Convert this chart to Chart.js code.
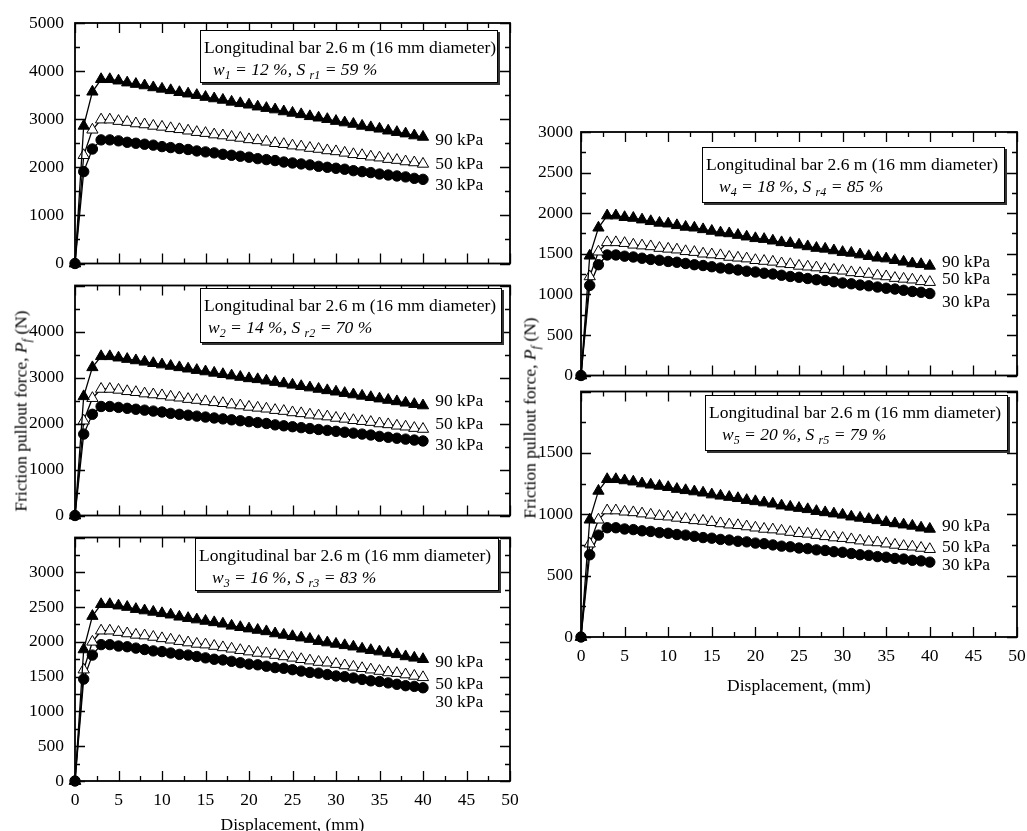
<!DOCTYPE html>
<html>
<head>
<meta charset="utf-8">
<title>Friction pullout force vs displacement</title>
<script src="https://cdn.jsdelivr.net/npm/chart.js@4.4.0/dist/chart.umd.min.js"></script>
<style>
    body { margin: 0; background: #fff; }
    #wrap { position: relative; width: 1027px; height: 831px; overflow: hidden; font-family: "Liberation Serif", serif; color: #000; }
    #wrap canvas { position: absolute; }
    .note { position: absolute; box-sizing: border-box; border: 1.5px solid #000; box-shadow: 2px 2px 0 #333; background: #fff; font-size: 17.5px; line-height: 22px; padding: 5px 0 0 3px; white-space: nowrap; }
    .note .cond { font-style: italic; }
    .note sub, .ytitle sub { font-size: 12px; line-height: 0; vertical-align: -4px; }
    .ytitle { position: absolute; font-size: 17.5px; white-space: nowrap; transform: translate(-50%, -50%) rotate(-90deg); }
</style>
</head>
<body>
<div id="wrap">
    <canvas id="c1" width="530" height="285" style="left:0;top:0"></canvas>
    <canvas id="c2" width="530" height="273" style="left:0;top:264px"></canvas>
    <canvas id="c3" width="530" height="320" style="left:0;top:516px"></canvas>
    <canvas id="c4" width="532" height="284" style="left:505px;top:110px"></canvas>
    <canvas id="c5" width="532" height="324" style="left:505px;top:373px"></canvas>

    <div class="note" style="left:200px;top:30px;width:298px;height:53px">
        <div>Longitudinal bar 2.6 m (16 mm diameter)</div>
        <div class="cond" style="padding-left:9px"><i>w</i><sub>1</sub> = 12 %, <i>S</i> <sub>r1</sub> = 59 %</div>
    </div>
    <div class="note" style="left:200px;top:288px;width:302px;height:55px">
        <div>Longitudinal bar 2.6 m (16 mm diameter)</div>
        <div class="cond" style="padding-left:4px"><i>w</i><sub>2</sub> = 14 %, <i>S</i> <sub>r2</sub> = 70 %</div>
    </div>
    <div class="note" style="left:195px;top:538px;width:304px;height:53px">
        <div>Longitudinal bar 2.6 m (16 mm diameter)</div>
        <div class="cond" style="padding-left:13px"><i>w</i><sub>3</sub> = 16 %, <i>S</i> <sub>r3</sub> = 83 %</div>
    </div>
    <div class="note" style="left:702px;top:147px;width:303px;height:56px">
        <div>Longitudinal bar 2.6 m (16 mm diameter)</div>
        <div class="cond" style="padding-left:13px"><i>w</i><sub>4</sub> = 18 %, <i>S</i> <sub>r4</sub> = 85 %</div>
    </div>
    <div class="note" style="left:705px;top:395px;width:303px;height:56px">
        <div>Longitudinal bar 2.6 m (16 mm diameter)</div>
        <div class="cond" style="padding-left:13px"><i>w</i><sub>5</sub> = 20 %, <i>S</i> <sub>r5</sub> = 79 %</div>
    </div>

    <div class="ytitle" style="left:21px;top:411px">Friction pullout force, <i>P<sub>f</sub></i> (N)</div>
    <div class="ytitle" style="left:530px;top:418px">Friction pullout force, <i>P<sub>f</sub></i> (N)</div>
</div>

<script>
/* ===============================
   Data
=============================== */

const disp = [0, 1, 2, 3, 4, 5, 6, 7, 8, 9, 10, 11, 12, 13, 14, 15, 16, 17, 18, 19, 20,
    21, 22, 23, 24, 25, 26, 27, 28, 29, 30, 31, 32, 33, 34, 35, 36, 37, 38, 39, 40];

const pressures = ["90 kPa", "50 kPa", "30 kPa"];

// w1 = 12 %
const p1_90 = [0, 2860, 3570, 3830, 3830, 3800, 3760, 3730, 3700, 3660, 3630, 3600, 3560, 3530, 3500, 3460, 3430, 3400, 3360, 3330, 3300,
    3260, 3230, 3200, 3160, 3130, 3100, 3060, 3030, 3000, 2960, 2930, 2900, 2860, 2830, 2800, 2760, 2730, 2700, 2660, 2630];
const p1_50 = [0, 2250, 2780, 2990, 2990, 2960, 2940, 2910, 2890, 2860, 2840, 2810, 2790, 2760, 2730, 2710, 2680, 2660, 2630, 2610, 2580,
    2560, 2530, 2500, 2480, 2450, 2430, 2400, 2380, 2350, 2330, 2300, 2270, 2250, 2220, 2200, 2170, 2150, 2120, 2100, 2070];
const p1_30 = [0, 1910, 2380, 2570, 2570, 2550, 2520, 2500, 2480, 2460, 2430, 2410, 2390, 2370, 2340, 2320, 2300, 2270, 2250, 2230, 2210,
    2180, 2160, 2140, 2110, 2090, 2070, 2050, 2020, 2000, 1980, 1960, 1930, 1910, 1890, 1860, 1840, 1820, 1800, 1770, 1750];

// w2 = 14 %
const p2_90 = [0, 2590, 3220, 3460, 3460, 3430, 3400, 3370, 3340, 3310, 3280, 3250, 3220, 3190, 3160, 3130, 3100, 3070, 3040, 3010, 2980,
    2960, 2930, 2900, 2870, 2840, 2810, 2780, 2750, 2720, 2690, 2660, 2630, 2600, 2570, 2540, 2510, 2480, 2450, 2420, 2390];
const p2_50 = [0, 2060, 2550, 2750, 2750, 2730, 2700, 2680, 2650, 2630, 2610, 2580, 2560, 2530, 2510, 2480, 2460, 2440, 2410, 2390, 2360,
    2340, 2320, 2290, 2270, 2240, 2220, 2190, 2170, 2150, 2120, 2100, 2070, 2050, 2030, 2000, 1980, 1950, 1930, 1900, 1880];
const p2_30 = [0, 1770, 2200, 2370, 2370, 2350, 2330, 2310, 2290, 2270, 2250, 2220, 2200, 2180, 2160, 2140, 2120, 2100, 2080, 2060, 2040,
    2020, 2000, 1970, 1950, 1930, 1910, 1890, 1870, 1850, 1830, 1810, 1790, 1770, 1750, 1720, 1700, 1680, 1660, 1640, 1620];

// w3 = 16 %
const p3_90 = [0, 1890, 2370, 2540, 2540, 2520, 2500, 2470, 2450, 2430, 2410, 2390, 2360, 2340, 2320, 2300, 2280, 2260, 2230, 2210, 2190,
    2170, 2150, 2120, 2100, 2080, 2060, 2040, 2010, 1990, 1970, 1950, 1930, 1900, 1880, 1860, 1840, 1820, 1790, 1770, 1750];
const p3_50 = [0, 1600, 2000, 2160, 2160, 2140, 2120, 2100, 2090, 2070, 2050, 2030, 2010, 1990, 1970, 1960, 1940, 1920, 1900, 1880, 1860,
    1840, 1830, 1810, 1790, 1770, 1750, 1730, 1710, 1700, 1680, 1660, 1640, 1620, 1600, 1580, 1560, 1550, 1530, 1510, 1490];
const p3_30 = [0, 1465, 1810, 1960, 1960, 1940, 1930, 1910, 1890, 1870, 1860, 1840, 1820, 1810, 1790, 1770, 1750, 1740, 1720, 1700, 1680,
    1670, 1650, 1630, 1620, 1600, 1580, 1560, 1550, 1530, 1510, 1500, 1480, 1460, 1440, 1430, 1410, 1390, 1370, 1360, 1340];

// w4 = 18 %
const p4_90 = [0, 1475, 1820, 1970, 1970, 1950, 1940, 1920, 1900, 1880, 1870, 1850, 1830, 1820, 1800, 1780, 1760, 1750, 1730, 1710, 1690,
    1680, 1660, 1640, 1630, 1610, 1590, 1570, 1560, 1540, 1520, 1510, 1490, 1470, 1450, 1440, 1420, 1400, 1380, 1370, 1350];
const p4_50 = [0, 1220, 1525, 1640, 1640, 1630, 1610, 1600, 1590, 1570, 1560, 1550, 1530, 1520, 1500, 1490, 1480, 1460, 1450, 1440, 1420,
    1410, 1400, 1380, 1370, 1350, 1340, 1330, 1310, 1300, 1290, 1270, 1260, 1250, 1230, 1220, 1200, 1190, 1180, 1160, 1150];
const p4_30 = [0, 1110, 1365, 1485, 1485, 1470, 1460, 1445, 1430, 1420, 1405, 1395, 1380, 1365, 1355, 1340, 1325, 1315, 1300, 1285, 1275,
    1260, 1250, 1235, 1220, 1210, 1195, 1180, 1170, 1155, 1140, 1130, 1115, 1105, 1090, 1075, 1065, 1050, 1035, 1025, 1010];

// w5 = 20 %
const p5_90 = [0, 955, 1190, 1285, 1285, 1275, 1265, 1250, 1240, 1230, 1220, 1205, 1195, 1185, 1175, 1160, 1150, 1140, 1130, 1115, 1105,
    1095, 1085, 1070, 1060, 1050, 1040, 1025, 1015, 1005, 995, 980, 970, 960, 950, 935, 925, 915, 905, 890, 880];
const p5_50 = [0, 760, 955, 1030, 1030, 1020, 1015, 1005, 995, 985, 980, 970, 960, 950, 945, 935, 925, 915, 910, 900, 890,
    880, 875, 865, 855, 845, 840, 830, 820, 810, 805, 795, 785, 775, 770, 760, 750, 740, 735, 725, 715];
const p5_30 = [0, 670, 830, 890, 890, 880, 875, 865, 860, 850, 845, 835, 830, 820, 810, 805, 795, 790, 780, 775, 765,
    760, 750, 740, 735, 725, 720, 710, 705, 695, 690, 680, 670, 665, 655, 650, 640, 635, 625, 620, 610];

// where the "90 / 50 / 30 kPa" tags sit (y value, N)
const tags1 = [2560, 2060, 1630];
const tags2 = [2480, 1970, 1525];
const tags3 = [1700, 1385, 1135];
const tags4 = [1395, 1180, 905];
const tags5 = [900, 732, 585];

const xTitle = "Displacement, (mm)";

/* ===============================
   Plugins
=============================== */

// inward ticks on all four sides + box frame
const framePlugin = {
    id: "frame",
    beforeDatasetsDraw(chart, args, opts) {
        const { ctx, chartArea: a, scales: { x, y } } = chart;
        ctx.save();
        ctx.strokeStyle = "#000";
        ctx.lineWidth = 1.3;
        ctx.beginPath();
        for (let v = 0; v <= x.max + 1e-6; v += 2.5) {
            const px = Math.round(x.getPixelForValue(v)) + 0.5;
            const len = v % 5 === 0 ? 10 : 5;
            ctx.moveTo(px, a.bottom); ctx.lineTo(px, a.bottom - len);
            ctx.moveTo(px, a.top); ctx.lineTo(px, a.top + len);
        }
        for (let k = 0; k * opts.minor <= y.max + 1e-6; k++) {
            const py = Math.round(y.getPixelForValue(k * opts.minor)) + 0.5;
            const len = k % 2 === 0 ? 10 : 5;
            ctx.moveTo(a.left, py); ctx.lineTo(a.left + len, py);
            ctx.moveTo(a.right, py); ctx.lineTo(a.right - len, py);
        }
        ctx.stroke();
        ctx.lineWidth = 1.8;
        ctx.strokeRect(a.left, a.top, a.right - a.left, a.bottom - a.top);
        ctx.restore();
    }
};

// pressure tags at the end of the curves
const tagPlugin = {
    id: "tags",
    afterDatasetsDraw(chart, args, opts) {
        const { ctx, scales: { x, y } } = chart;
        ctx.save();
        ctx.font = '17.5px "Liberation Serif"';
        ctx.fillStyle = "#000";
        ctx.textAlign = "left";
        ctx.textBaseline = "middle";
        opts.at.forEach(function (v, i) {
            ctx.fillText(pressures[i], x.getPixelForValue(41.4), y.getPixelForValue(v));
        });
        ctx.restore();
    }
};

Chart.register(framePlugin, tagPlugin);
Chart.defaults.font.family = '"Liberation Serif", serif';
Chart.defaults.font.size = 17.5;
Chart.defaults.color = "#000";

/* ===============================
   Panels
=============================== */

function series(vals, fill, style, radius) {
    return {
        data: disp.map(function (d, i) { return { x: d, y: vals[i] }; }),
        borderColor: "#000",
        borderWidth: 1.3,
        pointStyle: style,
        pointRadius: radius,
        pointBackgroundColor: fill,
        pointBorderColor: "#000",
        pointBorderWidth: 1,
        tension: 0,
        clip: false
    };
}

function makePanel(id, p) {
    new Chart(document.getElementById(id), {
        type: "line",
        data: {
            datasets: [
                series(p.s90, "#000", "triangle", 6.5),
                series(p.s50, "#fff", "triangle", 6.5),
                series(p.s30, "#000", "circle", 5.2)
            ]
        },
        options: {
            responsive: false,
            animation: false,
            events: [],
            layout: { padding: { top: p.padTop, right: 20, left: 0, bottom: 0 } },
            plugins: {
                legend: { display: false },
                tooltip: { enabled: false },
                frame: { minor: p.minor },
                tags: { at: p.tags }
            },
            scales: {
                x: {
                    type: "linear",
                    min: 0,
                    max: 50,
                    grid: { display: false, drawTicks: false },
                    border: { display: false },
                    ticks: { display: p.xLabels, stepSize: 5, padding: 9, autoSkip: false, maxRotation: 0 },
                    title: { display: p.xLabels, text: xTitle, padding: { top: 0, bottom: 0 } },
                    afterFit: function (s) { s.height = p.xHeight; }
                },
                y: {
                    min: 0,
                    max: p.yMax,
                    grid: { display: false, drawTicks: false },
                    border: { display: false },
                    ticks: {
                        stepSize: p.step,
                        padding: p.yPad,
                        autoSkip: false,
                        callback: function (v) { return v === p.hideTop ? "" : String(v); }
                    },
                    afterFit: function (s) { s.width = p.yWidth; }
                }
            }
        }
    });
}

makePanel("c1", { s90: p1_90, s50: p1_50, s30: p1_30, tags: tags1, yMax: 5000, step: 1000, minor: 500, hideTop: null,
    padTop: 23, xHeight: 10, xLabels: false, yWidth: 75, yPad: 11 });
makePanel("c2", { s90: p2_90, s50: p2_50, s30: p2_30, tags: tags2, yMax: 5000, step: 1000, minor: 500, hideTop: 5000,
    padTop: 11, xHeight: 10, xLabels: false, yWidth: 75, yPad: 11 });
makePanel("c3", { s90: p3_90, s50: p3_50, s30: p3_30, tags: tags3, yMax: 3500, step: 500, minor: 250, hideTop: 3500,
    padTop: 11, xHeight: 55, xLabels: true, yWidth: 75, yPad: 11 });
makePanel("c4", { s90: p4_90, s50: p4_50, s30: p4_30, tags: tags4, yMax: 3000, step: 500, minor: 250, hideTop: null,
    padTop: 22, xHeight: 10, xLabels: false, yWidth: 76, yPad: 8 });
makePanel("c5", { s90: p5_90, s50: p5_50, s30: p5_30, tags: tags5, yMax: 2000, step: 500, minor: 250, hideTop: 2000,
    padTop: 11, xHeight: 60, xLabels: true, yWidth: 76, yPad: 8 });
</script>
</body>
</html>
